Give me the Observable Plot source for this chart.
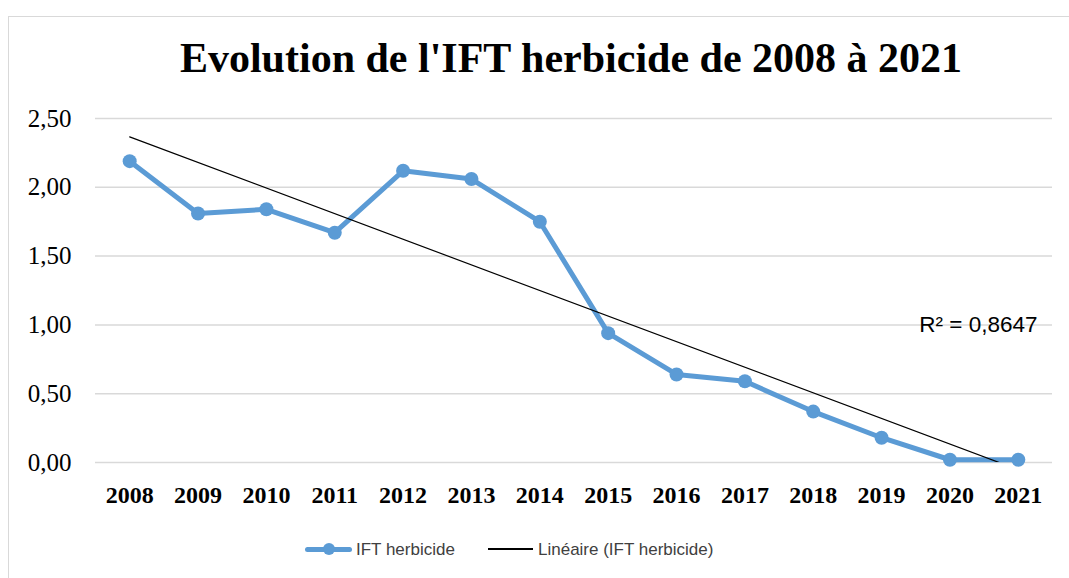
<!DOCTYPE html>
<html>
<head>
<meta charset="utf-8">
<script src="https://cdn.jsdelivr.net/npm/d3@7"></script>
<script src="https://cdn.jsdelivr.net/npm/@observablehq/plot@0.6"></script>
<style>
  html, body { margin: 0; padding: 0; background: #fff; }
  #wrap { position: relative; width: 1069px; height: 578px; overflow: hidden; }
  #border { position: absolute; left: 8px; top: 16px; width: 1100px; height: 600px; border: 1.5px solid #d9d9d9; box-sizing: border-box; }
  #title { position: absolute; top: 38px; left: 571px; transform: translateX(-50%); white-space: nowrap;
           font-family: "Liberation Serif", "DejaVu Serif", serif; font-weight: bold; font-size: 42px; line-height: 40px; color: #000; }
  #chart { position: absolute; left: 0; top: 100px; }
  #legend { position: absolute; top: 538px; left: 0; width: 1069px; height: 24px;
            font-family: "Liberation Sans", Arial, sans-serif; font-size: 17px; color: #404040; }
  .item { position: absolute; top: 0; height: 24px; line-height: 24px; white-space: nowrap; }
  .sw { position: absolute; }
</style>
</head>
<body>
<div id="wrap">
  <div id="border"></div>
  <div id="title"></div>
  <div id="chart"></div>
  <div id="legend"></div>
</div>
<script>
const titleText = "Evolution de l'IFT herbicide de 2008 à 2021";
const years = [2008, 2009, 2010, 2011, 2012, 2013, 2014, 2015, 2016, 2017, 2018, 2019, 2020, 2021];
const iftValues = [2.19, 1.81, 1.84, 1.67, 2.12, 2.06, 1.75, 0.94, 0.64, 0.59, 0.37, 0.18, 0.02, 0.02];
const yTicks = [0, 0.5, 1, 1.5, 2, 2.5];
const seriesName = "IFT herbicide";
const trendName = "Linéaire (IFT herbicide)";
const r2Label = "R² = 0,8647";
const seriesColor = "#5B9BD5";

const data = years.map((y, i) => ({year: y, value: iftValues[i]}));
const fmt = d => d.toFixed(2).replace(".", ",");
const serif = "'Liberation Serif', 'DejaVu Serif', serif";

document.getElementById("title").textContent = titleText;

const chart = Plot.plot({
  width: 1069,
  height: 420,
  marginLeft: 95,
  marginRight: 17,
  marginTop: 18,
  marginBottom: 58,
  style: {fontFamily: serif, background: "transparent", color: "#000"},
  x: {domain: [2007.5, 2021.5]},
  y: {domain: [0, 2.5]},
  marks: [
    Plot.ruleY(yTicks, {stroke: "#d9d9d9", strokeWidth: 1.5}),
    Plot.axisY({ticks: yTicks, tickFormat: fmt, tickSize: 0, tickPadding: 24, fontSize: 25, fontFamily: serif, label: null}),
    Plot.axisX({ticks: years, tickFormat: d => String(d), tickSize: 0, tickPadding: 23, fontSize: 24, fontWeight: "bold", fontFamily: serif, label: null}),
    Plot.line(data, {x: "year", y: "value", stroke: seriesColor, strokeWidth: 5, strokeLinejoin: "round"}),
    Plot.dot(data, {x: "year", y: "value", r: 7, fill: seriesColor, stroke: "none"}),
    Plot.linearRegressionY(data, {x: "year", y: "value", stroke: "#000", strokeWidth: 1.2, ci: 0, clip: true}),
    Plot.text([r2Label], {text: d => d, frameAnchor: "top-right", textAnchor: "end", dx: -15, dy: 198,
      fontFamily: "'Liberation Sans', Arial, sans-serif", fontSize: 22.5, fill: "#000"})
  ]
});
document.getElementById("chart").appendChild(chart);

// Legend
const legend = document.getElementById("legend");
const items = [
  {name: seriesName, left: 305, lineW: 47, color: seriesColor, thick: 5, marker: true, textLeft: 356},
  {name: trendName, left: 488, lineW: 45, color: "#000", thick: 1.2, marker: false, textLeft: 538}
];
for (const it of items) {
  const line = document.createElement("div");
  line.className = "sw";
  line.style.left = it.left + "px";
  line.style.top = (11 - it.thick / 2) + "px";
  line.style.width = it.lineW + "px";
  line.style.height = it.thick + "px";
  line.style.background = it.color;
  line.style.borderRadius = it.thick > 2 ? "3px" : "0";
  legend.appendChild(line);
  if (it.marker) {
    const m = document.createElement("div");
    m.className = "sw";
    m.style.left = (it.left + it.lineW / 2 - 6) + "px";
    m.style.top = "5px";
    m.style.width = "12px";
    m.style.height = "12px";
    m.style.borderRadius = "50%";
    m.style.background = it.color;
    legend.appendChild(m);
  }
  const t = document.createElement("div");
  t.className = "item";
  t.style.left = it.textLeft + "px";
  t.textContent = it.name;
  legend.appendChild(t);
}
</script>
</body>
</html>
